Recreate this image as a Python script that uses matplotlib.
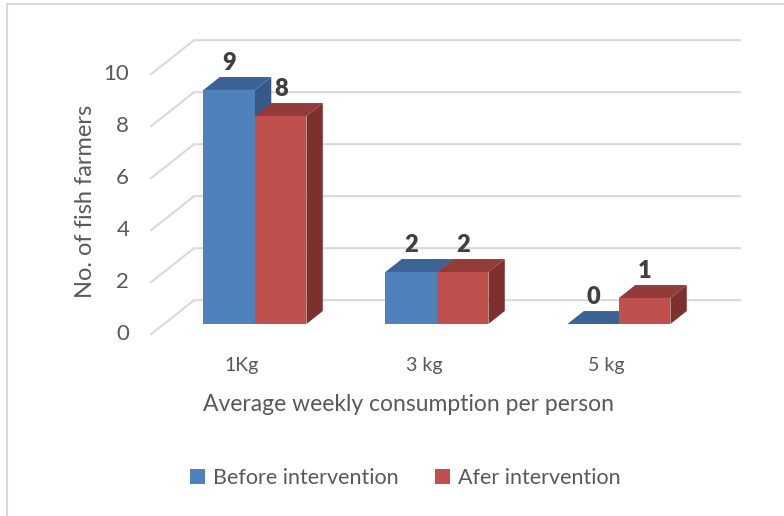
import matplotlib.pyplot as plt
from matplotlib.patches import Polygon

plt.rcParams['font.family'] = ['Lato', 'DejaVu Sans']

# data
categories = ['1Kg', '3 kg', '5 kg']
before = [9, 2, 0]
after = [8, 2, 1]
series_names = ['Before intervention', 'Afer intervention']
yticks = [0, 2, 4, 6, 8, 10]

# colours: front, top, side
blue = ('#4F81BD', '#3C6395', '#355A88')
red = ('#C0504D', '#923B39', '#7E302E')
grid_c = '#D9D9D9'
text_c = '#595959'

# oblique projection: depth 0 = floor front, 1 = back wall
DX, DV = 0.236, 1.308
D_FRONT, D_BACK = 0.3, 0.68
BAR_W = 0.283


def proj(x, v, d):
    return (x + (d - D_FRONT) * DX, v + (d - D_FRONT) * DV)


fig = plt.figure(figsize=(7.84, 5.16), dpi=100)
ax = fig.add_axes([0, 0, 1, 1])
ax.set_xlim(-1.401, 2.907)
ax.set_ylim(-7.385, 12.46)
ax.axis('off')

# outer frame (left and top edges)
fig.add_artist(plt.Line2D([0.009, 0.009], [0, 0.992], color='#D9D9D9', lw=1.5))
fig.add_artist(plt.Line2D([0.009, 1], [0.992, 0.992], color='#D9D9D9', lw=1.5))

xl, xr = -0.5, len(categories) - 0.5

# gridlines on back wall and side wall
for v in yticks:
    x0, y0 = proj(xl, v, 0)
    x1, y1 = proj(xl, v, 1)
    x2, y2 = proj(xr, v, 1)
    ax.plot([x0, x1, x2], [y0, y1, y2], color=grid_c, lw=1.5, zorder=1)
    ax.text(x0 - 0.12, y0, str(v), ha='right', va='center',
            fontsize=16, color=text_c)


def draw_bar(x0, x1, h, cols):
    front, top, side = cols
    if h > 0:
        ax.add_patch(Polygon([proj(x0, 0, D_FRONT), proj(x1, 0, D_FRONT),
                              proj(x1, h, D_FRONT), proj(x0, h, D_FRONT)],
                             closed=True, fc=front, ec='none', zorder=3))
        ax.add_patch(Polygon([proj(x1, 0, D_FRONT), proj(x1, 0, D_BACK),
                              proj(x1, h, D_BACK), proj(x1, h, D_FRONT)],
                             closed=True, fc=side, ec='none', zorder=3))
    ax.add_patch(Polygon([proj(x0, h, D_FRONT), proj(x1, h, D_FRONT),
                          proj(x1, h, D_BACK), proj(x0, h, D_BACK)],
                         closed=True, fc=top, ec='none', zorder=3))
    ax.text((x0 + x1) / 2, h + 1.04, str(h), ha='center', va='center',
            fontsize=17, fontweight='heavy', color='#404040', zorder=4)


for i, cat in enumerate(categories):
    draw_bar(i - BAR_W, i, before[i], blue)
    draw_bar(i, i + BAR_W, after[i], red)
    lx, _ = proj(i, 0, 0)
    ax.text(lx, -1.58, cat, ha='center', va='center', fontsize=14, color=text_c)

# axis titles
ax.text(-0.93, 4.7, 'No. of fish farmers', rotation=90, ha='center',
        va='center', fontsize=17, color=text_c)
ax.text(0.846, -3.1, 'Average weekly consumption per person', ha='center',
        va='center', fontsize=16.5, color=text_c)

# legend
leg_handles = [plt.Rectangle((0, 0), 1, 1, fc=blue[0]),
               plt.Rectangle((0, 0), 1, 1, fc=red[0])]
fig.legend(leg_handles, series_names, loc='center', bbox_to_anchor=(0.517, 0.073),
           ncol=2, frameon=False, fontsize=15.5, labelcolor=text_c,
           handlelength=0.7, handleheight=0.7, handletextpad=0.35,
           columnspacing=1.7)

fig.savefig('out.png', dpi=100)
